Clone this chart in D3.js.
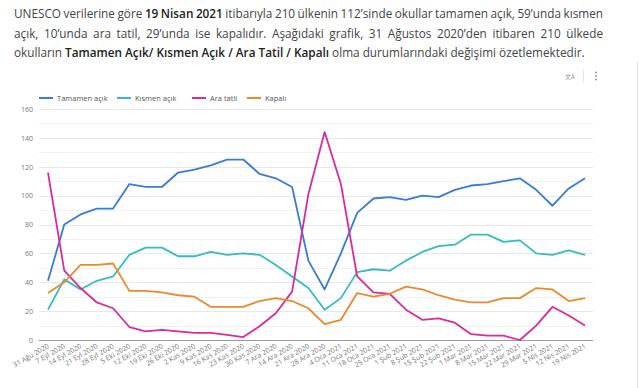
<!DOCTYPE html>
<html>
<head>
<meta charset="utf-8">
<script src="https://cdn.jsdelivr.net/npm/d3@7"></script>
<style>
  html, body { margin: 0; padding: 0; background: #fff; }
  svg { display: block; }
</style>
</head>
<body>
<div id="chart"></div>
<script>
// haftalık tarihler
const dates = ["31 Ağu 2020", "7 Eyl 2020", "14 Eyl 2020", "21 Eyl 2020", "28 Eyl 2020", "5 Eki 2020",
  "12 Eki 2020", "19 Eki 2020", "26 Eki 2020", "2 Kas 2020", "9 Kas 2020", "16 Kas 2020", "23 Kas 2020",
  "30 Kas 2020", "7 Ara 2020", "14 Ara 2020", "21 Ara 2020", "28 Ara 2020", "4 Oca 2021", "11 Oca 2021",
  "18 Oca 2021", "25 Oca 2021", "1 Şub 2021", "8 Şub 2021", "15 Şub 2021", "22 Şub 2021", "1 Mar 2021",
  "8 Mar 2021", "15 Mar 2021", "22 Mar 2021", "29 Mar 2021", "5 Nis 2021", "12 Nis 2021", "19 Nis 2021"];

const tamamenAcik = [41, 80, 87, 91, 91, 108, 106, 106, 116, 118, 121, 125, 125, 115, 112, 106, 55, 35,
  60, 88, 98, 99, 97, 100, 99, 104, 107, 108, 110, 112, 104, 93, 105, 112];
const kismenAcik = [21, 42, 35, 41, 44, 59, 64, 64, 58, 58, 61, 59, 60, 59, 52, 44, 36, 21,
  29, 47, 49, 48, 55, 61, 65, 66, 73, 73, 68, 69, 60, 59, 62, 59];
const araTatil = [116, 48, 36, 26, 22, 9, 6, 7, 6, 5, 5, 3.5, 2, 9.5, 18.5, 33.5, 101, 144,
  108, 44, 33, 32, 21, 14, 15, 12, 4, 3, 3, 0, 10, 23, 17, 10];
const kapali = [32.5, 40, 52, 52, 53, 34, 34, 33, 31, 30, 23, 23, 23, 27, 29, 27, 22, 11,
  14, 32.5, 30, 32, 37, 35, 31, 28, 26, 26, 29, 29, 36, 35, 27, 29];

const seriesNames = ["Tamamen açık", "Kısmen açık", "Ara tatil", "Kapalı"];
const seriesColors = ["#3a7bd5", "#35bcc0", "#d82ba0", "#e98a2e"];
const yTicks = [0, 20, 40, 60, 80, 100, 120, 140, 160];

const series = [tamamenAcik, kismenAcik, araTatil, kapali];

const width = 640, height = 388;
const svg = d3.select("#chart").append("svg")
  .attr("width", width).attr("height", height);

const textFont = "'Open Sans', sans-serif";

// üstteki paragraf (ilk iki satır iki yana yaslı)
const paragraph = [
  { justify: true, words: [["UNESCO", 0], ["verilerine", 0], ["göre", 0], ["19", 1], ["Nisan", 1], ["2021", 1],
    ["itibarıyla", 0], ["210", 0], ["ülkenin", 0], ["112’sinde", 0], ["okullar", 0], ["tamamen", 0],
    ["açık,", 0], ["59’unda", 0], ["kısmen", 0]] },
  { justify: true, words: [["açık,", 0], ["10’unda", 0], ["ara", 0], ["tatil,", 0], ["29’unda", 0], ["ise", 0],
    ["kapalıdır.", 0], ["Aşağıdaki", 0], ["grafik,", 0], ["31", 0], ["Ağustos", 0], ["2020’den", 0],
    ["itibaren", 0], ["210", 0], ["ülkede", 0]] },
  { justify: false, words: [["okulların", 0], ["Tamamen", 1], ["Açık/", 1], ["Kısmen", 1], ["Açık", 1], ["/", 1],
    ["Ara", 1], ["Tatil", 1], ["/", 1], ["Kapalı", 1], ["olma", 0], ["durumlarındaki", 0], ["değişimi", 0],
    ["özetlemektedir.", 0]] }
];
const textLeft = 14, textRight = 603, lastLineRight = 585;
const para = svg.append("g").attr("font-family", textFont);
const measure = para.append("text").attr("x", -1000).attr("y", -1000);
function wordWidth(w, bold, size) {
  measure.attr("font-size", size).attr("font-weight", bold ? 600 : 400).text(w);
  return measure.node().getComputedTextLength();
}
function spaceWidth(size) {
  measure.attr("font-size", size).attr("font-weight", 400).text("a a");
  const a = measure.node().getComputedTextLength();
  measure.text("aa");
  return a - measure.node().getComputedTextLength();
}
// son satırın genişliğine göre yazı boyutunu ayarla
const last = paragraph[2].words;
const natural = d3.sum(last, d => wordWidth(d[0], d[1], 13)) + spaceWidth(13) * (last.length - 1);
const fontSize = 13 * (lastLineRight - textLeft) / natural;
const normalSpace = spaceWidth(fontSize);

paragraph.forEach((line, li) => {
  const widths = line.words.map(d => wordWidth(d[0], d[1], fontSize));
  const total = d3.sum(widths);
  const gap = line.justify ? (textRight - textLeft - total) / (line.words.length - 1) : normalSpace;
  let x = textLeft;
  line.words.forEach((d, i) => {
    para.append("text")
      .attr("x", x).attr("y", 18 + li * 19.5)
      .attr("font-size", fontSize)
      .attr("fill", d[1] ? "#222" : "#444")
      .attr("font-weight", d[1] ? 600 : 400)
      .text(d[0]);
    x += widths[i] + gap;
  });
});
measure.remove();

// kart kenarı ve ikonlar
svg.append("line").attr("x1", 637.5).attr("x2", 637.5).attr("y1", 62).attr("y2", height)
  .attr("stroke", "#e3e3e3");
svg.append("text").attr("x", 565).attr("y", 79).attr("font-size", 6).attr("fill", "#8a8a8a")
  .attr("font-family", "'Noto Sans CJK SC', sans-serif").text("文A");
svg.append("line").attr("x1", 583.5).attr("x2", 583.5).attr("y1", 70).attr("y2", 82).attr("stroke", "#e6e6e6");
svg.append("g").attr("fill", "#8a8a8a").selectAll("circle").data([72.5, 76, 79.5]).enter().append("circle")
  .attr("cx", 596).attr("cy", d => d).attr("r", 0.9);

// ölçekler
const x = d3.scalePoint().domain(dates).range([48, 585]);
const y = d3.scaleLinear().domain([0, 160]).range([340, 109]);
const plotLeft = 39, plotRight = 593;

// ızgara çizgileri (her 10'da bir)
const grid = svg.append("g");
grid.selectAll("line").data(d3.range(10, 161, 10)).enter().append("line")
  .attr("x1", plotLeft).attr("x2", plotRight)
  .attr("y1", d => Math.round(y(d)) + 0.5).attr("y2", d => Math.round(y(d)) + 0.5)
  .attr("stroke", d => d % 20 === 0 ? "#e8e8e8" : "#f2f2f2");

// y ekseni
const yAxis = svg.append("g")
  .attr("transform", `translate(${plotLeft},0)`)
  .call(d3.axisLeft(y).tickValues(yTicks).tickSize(0).tickPadding(6));
yAxis.select(".domain").remove();
yAxis.selectAll("text").attr("font-family", textFont).attr("font-size", 7).attr("fill", "#777");

// x ekseni
svg.append("line").attr("x1", plotLeft).attr("x2", plotRight)
  .attr("y1", Math.round(y(0)) + 0.5).attr("y2", Math.round(y(0)) + 0.5)
  .attr("stroke", "#9a9a9a").attr("stroke-width", 1);
const xAxis = svg.append("g")
  .attr("transform", `translate(0,${y(0)})`)
  .call(d3.axisBottom(x).tickSize(0).tickPadding(0));
xAxis.select(".domain").remove();
xAxis.selectAll("text")
  .attr("font-family", textFont).attr("font-size", 7).attr("fill", "#777")
  .attr("text-anchor", "end").attr("dy", 0)
  .attr("transform", "translate(1,7.5) rotate(-30)");

// seriler
const line = d3.line().x((d, i) => x(dates[i])).y(d => y(d));
svg.append("g").selectAll("path").data(series).enter().append("path")
  .attr("d", d => line(d))
  .attr("fill", "none")
  .attr("stroke", (d, i) => seriesColors[i])
  .attr("stroke-width", 1.8)
  .attr("stroke-linejoin", "round");

// lejant
const legendX = [39, 117, 192, 247];
const legend = svg.append("g").attr("font-family", textFont).attr("font-size", 7.5).attr("fill", "#555");
seriesNames.forEach((name, i) => {
  legend.append("line").attr("x1", legendX[i]).attr("x2", legendX[i] + 14)
    .attr("y1", 98).attr("y2", 98).attr("stroke", seriesColors[i]).attr("stroke-width", 2);
  legend.append("text").attr("x", legendX[i] + 18).attr("y", 100.5).text(name);
});
</script>
</body>
</html>
